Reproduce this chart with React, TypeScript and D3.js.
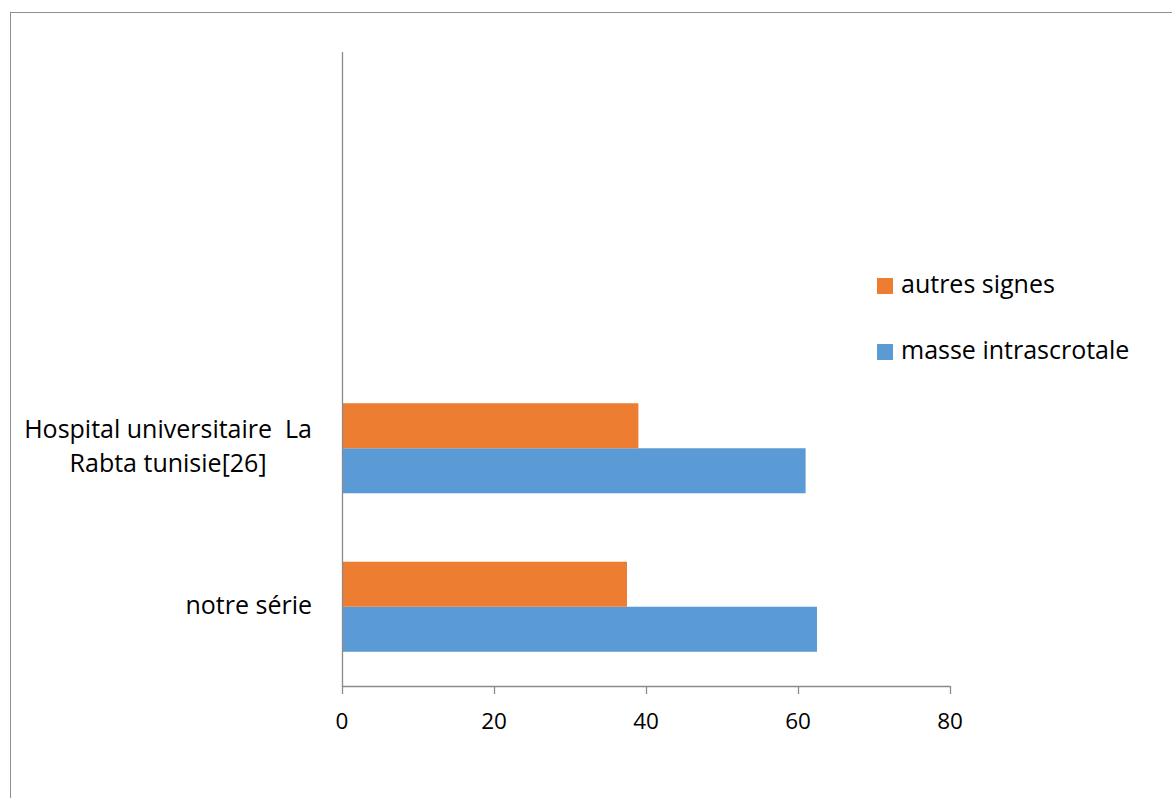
import React, { useEffect, useRef } from "react";
import * as d3 from "d3";

// Categories from bottom to top; the two upper slots are empty rows of the sheet.
const categories: string[][] = [
  ["notre série"],
  ["Hospital universitaire  La", "Rabta tunisie[26]"],
  [],
  [],
];
const seriesNames = ["masse intrascrotale", "autres signes"];
const masseIntrascrotale = [62.5, 61];
const autresSignes = [37.5, 39];
const xTicks = [0, 20, 40, 60, 80];
const colors = ["#5B9BD5", "#ED7D31"];

const W = 1172;
const H = 798;
const FONT = "'Open Sans', sans-serif";

export default function App() {
  const ref = useRef<SVGSVGElement>(null);

  useEffect(() => {
    const svg = d3.select(ref.current);
    svg.selectAll("*").remove();

    const left = 342;
    const right = 950;
    const top = 52;
    const bottom = 686;

    // chart frame
    svg
      .append("rect")
      .attr("x", 10.5)
      .attr("y", 12.5)
      .attr("width", W + 20)
      .attr("height", H + 20)
      .attr("fill", "#fff")
      .attr("stroke", "#8f8f8f")
      .attr("stroke-width", 1);

    const x = d3.scaleLinear().domain([0, 80]).range([left, right]);
    const y = d3
      .scaleBand<number>()
      .domain(d3.range(categories.length))
      .range([bottom, top])
      .padding(0);
    const inner = d3
      .scaleBand<number>()
      .domain([1, 0])
      .range([0, y.bandwidth()])
      .paddingInner(0)
      .paddingOuter(0.76);

    const values = [masseIntrascrotale, autresSignes];

    // bars
    values.forEach((vals, s) => {
      svg
        .append("g")
        .selectAll("rect")
        .data(vals)
        .join("rect")
        .attr("x", x(0))
        .attr("y", (_d, i) => (y(i) as number) + (inner(s) as number))
        .attr("width", (d) => x(d) - x(0))
        .attr("height", inner.bandwidth())
        .attr("fill", colors[s]);
    });

    // x axis
    const axisColor = "#8a8a8a";
    svg
      .append("line")
      .attr("x1", left)
      .attr("x2", right)
      .attr("y1", bottom + 0.5)
      .attr("y2", bottom + 0.5)
      .attr("stroke", axisColor)
      .attr("stroke-width", 1.3);
    const tg = svg.append("g");
    xTicks.forEach((t) => {
      tg.append("line")
        .attr("x1", Math.round(x(t)) + 0.5)
        .attr("x2", Math.round(x(t)) + 0.5)
        .attr("y1", bottom)
        .attr("y2", bottom + 8)
        .attr("stroke", axisColor)
        .attr("stroke-width", 1.3);
      tg.append("text")
        .attr("x", x(t))
        .attr("y", 729)
        .attr("text-anchor", "middle")
        .attr("font-family", FONT)
        .attr("font-size", 22.5)
        .attr("fill", "#000")
        .text(String(t));
    });

    // y axis
    svg
      .append("line")
      .attr("x1", left + 0.5)
      .attr("x2", left + 0.5)
      .attr("y1", top)
      .attr("y2", bottom + 1)
      .attr("stroke", axisColor)
      .attr("stroke-width", 1.3);

    // category labels: centred lines, block right-aligned against the axis
    const labelRight = 312;
    const lineH = 34;
    categories.forEach((lines, i) => {
      if (!lines.length) return;
      const cy = (y(i) as number) + y.bandwidth() / 2;
      const t = svg
        .append("text")
        .attr("font-family", FONT)
        .attr("font-size", 25)
        .attr("fill", "#000")
        .attr("text-anchor", "middle")
        .style("white-space", "pre");
      const spans = lines.map((ln) => t.append("tspan").text(ln));
      const widths = spans.map((sp) => (sp.node() as SVGTSpanElement).getComputedTextLength());
      const cx = labelRight - (d3.max(widths) as number) / 2;
      const firstBase = cy + 7 - ((lines.length - 1) * lineH) / 2;
      spans.forEach((sp, k) => sp.attr("x", cx).attr("y", firstBase + k * lineH));
    });

    // legend (reversed series order, as in the bar layout)
    const legend = [
      { name: seriesNames[1], color: colors[1], y: 293 },
      { name: seriesNames[0], color: colors[0], y: 359 },
    ];
    legend.forEach((l) => {
      svg
        .append("rect")
        .attr("x", 877)
        .attr("y", l.y - 15)
        .attr("width", 16)
        .attr("height", 16)
        .attr("fill", l.color);
      svg
        .append("text")
        .attr("x", 901)
        .attr("y", l.y)
        .attr("font-family", FONT)
        .attr("font-size", 25)
        .attr("fill", "#000")
        .text(l.name);
    });
  }, []);

  return (
    <svg
      ref={ref}
      width={W}
      height={H}
      style={{ position: "absolute", left: 0, top: 0, background: "#fff" }}
    />
  );
}
